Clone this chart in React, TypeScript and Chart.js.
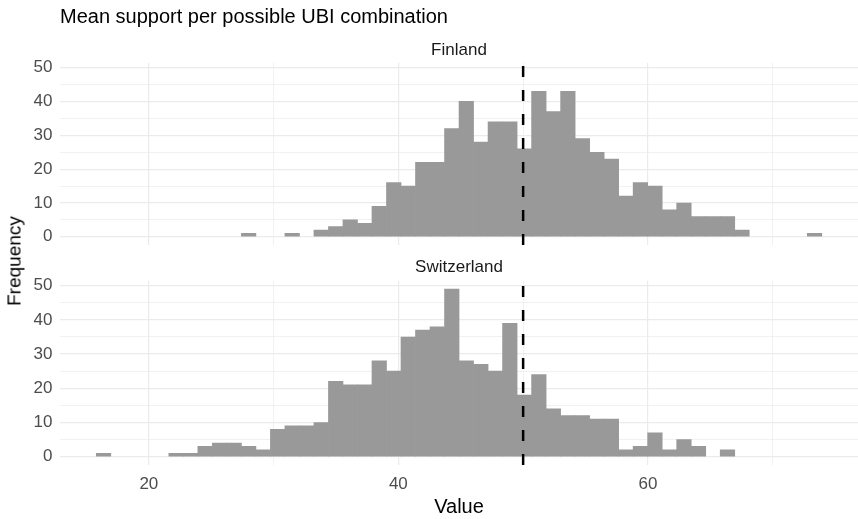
import React, { useEffect, useRef } from "react";
import { Chart, registerables } from "chart.js";

Chart.register(...registerables);

// ---- text ----
const TITLE = "Mean support per possible UBI combination";
const PANEL_LABELS = ["Finland", "Switzerland"];
const X_TITLE = "Value";
const Y_TITLE = "Frequency";

// ---- histogram bins (50 bins, shared across facets) ----
const BIN_FIRST_CENTER = 16.37;
const BIN_WIDTH = 1.163;

const finlandCounts = [
  0, 0, 0, 0, 0, 0, 0, 0, 0, 0,
  1, 0, 0, 1, 0, 2, 3, 5, 4, 9,
  16, 15, 22, 22, 32, 40, 28, 34, 34, 26,
  43, 37, 43, 29, 25, 23, 12, 16, 15, 8,
  10, 6, 6, 6, 2, 0, 0, 0, 0, 1,
];

const switzerlandCounts = [
  1, 0, 0, 0, 0, 1, 1, 3, 4, 4,
  3, 2, 8, 9, 9, 10, 22, 21, 21, 28,
  25, 35, 37, 38, 49, 28, 27, 25, 39, 18,
  24, 14, 12, 12, 11, 11, 2, 3, 7, 2,
  5, 3, 0, 2, 0, 0, 0, 0, 0, 0,
];

// reference line
const REF_VALUE = 50;

// ---- axes ----
const X_MIN = 12.88;
const X_MAX = 76.84;
const Y_MIN = -2.45;
const Y_MAX = 51.45;
const X_GRID = [20, 30, 40, 50, 60, 70];
const X_LABELED = [20, 40, 60];
const Y_GRID = [0, 5, 10, 15, 20, 25, 30, 35, 40, 45, 50];
const Y_LABELED = [0, 10, 20, 30, 40, 50];

const FONT = "'Liberation Sans', Arial, Helvetica, sans-serif";
const GRID_COLOR = "#ebebeb";
const BAR_COLOR = "#999999";

function buildConfig(counts: number[], isBottom: boolean): any {
  const barData = counts.map((c, i) => ({ x: BIN_FIRST_CENTER + i * BIN_WIDTH, y: c }));
  const plugins: any = {
    legend: { display: false },
    tooltip: { enabled: false },
  };
  if (!isBottom) {
    plugins.title = {
      display: true,
      text: TITLE,
      align: "start",
      fullSize: false,
      color: "#000000",
      font: { family: FONT, size: 20, weight: "normal", lineHeight: 1.2 },
      padding: { top: 5.5, bottom: 0 },
    };
    plugins.subtitle = {
      display: true,
      text: PANEL_LABELS[0],
      align: "center",
      fullSize: false,
      color: "#1a1a1a",
      font: { family: FONT, size: 17, weight: "normal", lineHeight: 1.2 },
      padding: { top: 10.5, bottom: 2.3 },
    };
  } else {
    plugins.title = {
      display: true,
      text: PANEL_LABELS[1],
      align: "center",
      fullSize: false,
      color: "#1a1a1a",
      font: { family: FONT, size: 17, weight: "normal", lineHeight: 1.2 },
      padding: { top: 6.8, bottom: 3.5 },
    };
    plugins.subtitle = { display: false };
  }

  return {
    type: "bar",
    data: {
      datasets: [
        {
          type: "line",
          data: [
            { x: REF_VALUE, y: Y_MIN },
            { x: REF_VALUE, y: Y_MAX },
          ],
          borderColor: "#000000",
          borderWidth: 2.5,
          borderDash: [11, 13],
          pointRadius: 0,
          fill: false,
          order: 0,
        },
        {
          type: "bar",
          data: barData,
          backgroundColor: (ctx: any) =>
            ctx.raw && ctx.raw.y === 0 ? "rgba(0,0,0,0)" : BAR_COLOR,
          borderWidth: 0,
          barPercentage: 1,
          categoryPercentage: 1,
          order: 1,
        },
      ],
    },
    options: {
      responsive: false,
      animation: false,
      devicePixelRatio: 1,
      layout: { padding: { top: 0, left: 0, right: 0, bottom: isBottom ? 0 : 4.9 } },
      plugins,
      scales: {
        x: {
          type: "linear",
          min: X_MIN,
          max: X_MAX,
          offset: false,
          border: { display: false },
          grid: {
            offset: false,
            drawTicks: false,
            color: GRID_COLOR,
            lineWidth: (ctx: any) =>
              ctx.tick && X_LABELED.includes(ctx.tick.value) ? 1.2 : 0.7,
          },
          afterBuildTicks: (s: any) => {
            s.ticks = X_GRID.map((v) => ({ value: v }));
          },
          ticks: {
            display: isBottom,
            autoSkip: false,
            maxRotation: 0,
            padding: 9.5,
            color: "#4d4d4d",
            font: { family: FONT, size: 17 },
            callback: (v: any) => (X_LABELED.includes(Number(v)) ? String(v) : ""),
          },
          title: {
            display: isBottom,
            text: X_TITLE,
            color: "#000000",
            font: { family: FONT, size: 20, lineHeight: 0.8 },
            padding: { top: 0, bottom: 3.5 },
          },
          afterFit: (s: any) => {
            s.height = isBottom ? 53.9 : 0;
            s.paddingLeft = 0;
            s.paddingRight = 0;
          },
        },
        y: {
          type: "linear",
          min: Y_MIN,
          max: Y_MAX,
          border: { display: false },
          grid: {
            drawTicks: false,
            color: GRID_COLOR,
            lineWidth: (ctx: any) =>
              ctx.tick && Y_LABELED.includes(ctx.tick.value) ? 1.2 : 0.7,
          },
          afterBuildTicks: (s: any) => {
            s.ticks = Y_GRID.map((v) => ({ value: v }));
          },
          ticks: {
            autoSkip: false,
            padding: 7.5,
            color: "#4d4d4d",
            font: { family: FONT, size: 17 },
            callback: (v: any) => (Y_LABELED.includes(Number(v)) ? String(v) : ""),
          },
          afterFit: (s: any) => {
            s.width = 60;
            s.paddingTop = 0;
            s.paddingBottom = 0;
          },
        },
      },
    },
  };
}

function Panel({ counts, isBottom, top, height }: { counts: number[]; isBottom: boolean; top: number; height: number }) {
  const ref = useRef<HTMLCanvasElement | null>(null);
  useEffect(() => {
    if (!ref.current) return;
    const chart = new Chart(ref.current, buildConfig(counts, isBottom));
    return () => chart.destroy();
  }, [counts, isBottom]);
  return (
    <canvas
      ref={ref}
      width={858}
      height={height}
      style={{ position: "absolute", left: 0, top, width: 858, height, display: "block" }}
    />
  );
}

export default function App() {
  return (
    <div
      style={{
        position: "absolute",
        left: 0,
        top: 0,
        width: 858,
        height: 519,
        background: "#ffffff",
        overflow: "hidden",
      }}
    >
      <Panel counts={finlandCounts} isBottom={false} top={0} height={250} />
      <Panel counts={switzerlandCounts} isBottom={true} top={250} height={269} />
      <div
        style={{
          position: "absolute",
          left: 14,
          top: 261,
          transform: "translate(-50%, -50%) rotate(-90deg)",
          fontFamily: FONT,
          fontSize: 19,
          lineHeight: 1,
          color: "#000000",
          whiteSpace: "nowrap",
        }}
      >
        {Y_TITLE}
      </div>
    </div>
  );
}
